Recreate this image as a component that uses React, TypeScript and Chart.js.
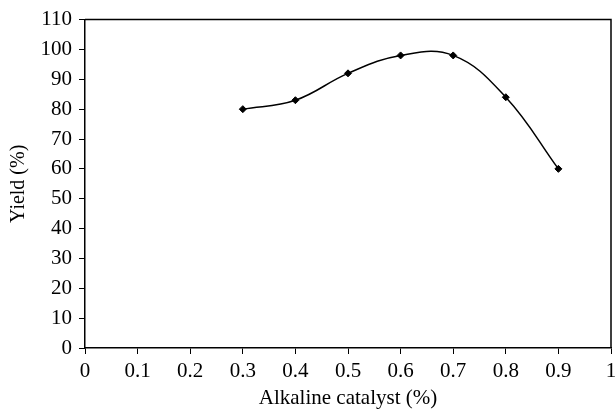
import React, { useEffect, useRef } from "react";
import { Chart, registerables } from "chart.js";

Chart.register(...registerables);

const catalyst = [0.3, 0.4, 0.5, 0.6, 0.7, 0.8, 0.9];
const yieldValues = [80, 83, 92, 98, 98, 84, 60];
const xTickValues = [0, 0.1, 0.2, 0.3, 0.4, 0.5, 0.6, 0.7, 0.8, 0.9, 1];
const xTitle = "Alkaline catalyst (%)";
const yTitle = "Yield (%)";

const FONT = "'Liberation Serif', 'Times New Roman', serif";

const boxPlugin = {
  id: "boxPlugin",
  afterDraw(chart: any) {
    const { ctx, chartArea } = chart;
    ctx.save();
    ctx.strokeStyle = "#000";
    ctx.lineWidth = 1.5;
    ctx.beginPath();
    ctx.moveTo(chartArea.left, chartArea.top);
    ctx.lineTo(chartArea.right, chartArea.top);
    ctx.lineTo(chartArea.right, chartArea.bottom);
    ctx.stroke();
    ctx.restore();
  },
};

export default function App() {
  const ref = useRef<HTMLCanvasElement | null>(null);
  useEffect(() => {
    if (!ref.current) return;
    const chart = new Chart(ref.current, {
      type: "line",
      data: {
        datasets: [
          {
            data: catalyst.map((x, i) => ({ x, y: yieldValues[i] })),
            borderColor: "#000",
            backgroundColor: "#000",
            borderWidth: 1.5,
            tension: 0.4,
            pointStyle: "rectRot",
            pointRadius: 3.5,
            pointBorderWidth: 1,
            fill: false,
          },
        ],
      },
      options: {
        animation: false,
        responsive: false,
        layout: { padding: { top: 18, right: 4, left: 0, bottom: 0 } },
        plugins: { legend: { display: false }, tooltip: { enabled: false } },
        scales: {
          x: {
            type: "linear",
            min: 0,
            max: 1,
            afterFit: (s: any) => {
              s.height = 63;
              s.paddingRight = 0;
              s.paddingLeft = 0;
            },
            afterBuildTicks: (s: any) => {
              s.ticks = xTickValues.map((v) => ({ value: v }));
            },
            border: { color: "#000", width: 1.5 },
            grid: {
              drawOnChartArea: false,
              drawTicks: true,
              tickLength: 6,
              color: "#000",
              tickWidth: 1,
            },
            ticks: {
              color: "#000",
              font: { family: FONT, size: 21 },
              padding: 5,
              maxRotation: 0,
              autoSkip: false,
              callback: (v: any) => String(Number(Number(v).toFixed(1))),
            },
            title: {
              display: true,
              text: xTitle,
              color: "#000",
              font: { family: FONT, size: 21 },
              padding: { top: 0, bottom: 0 },
            },
          },
          y: {
            min: 0,
            max: 110,
            afterFit: (s: any) => {
              s.width = 85;
            },
            border: { color: "#000", width: 1.5 },
            grid: {
              drawOnChartArea: false,
              drawTicks: true,
              tickLength: 6,
              color: "#000",
              tickWidth: 1,
            },
            ticks: {
              stepSize: 10,
              color: "#000",
              font: { family: FONT, size: 21 },
              padding: 7,
            },
            title: {
              display: true,
              text: yTitle,
              color: "#000",
              font: { family: FONT, size: 20 },
              padding: { top: 7, bottom: 0 },
            },
          },
        },
      },
      plugins: [boxPlugin],
    });
    return () => chart.destroy();
  }, []);
  return (
    <div style={{ position: "absolute", left: 0, top: 0, width: 616, height: 411, background: "#fff" }}>
      <canvas ref={ref} width={616} height={411} />
    </div>
  );
}
